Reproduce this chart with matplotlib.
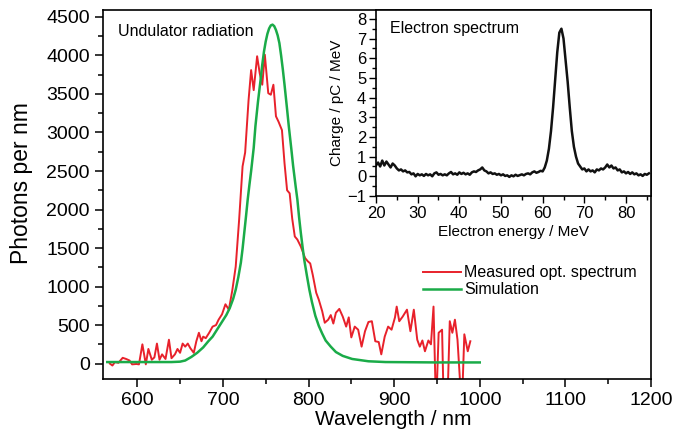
import matplotlib
matplotlib.use("Agg")
import matplotlib.pyplot as plt
from matplotlib.ticker import MultipleLocator

plt.rcParams['font.family'] = ['Liberation Sans', 'DejaVu Sans']

# measured optical spectrum (wavelength nm, photons per nm)
meas_wl = [568, 571, 574, 578, 583, 587, 591, 594, 599, 602, 606, 610, 613, 617, 620,
           623, 626, 629, 633, 637, 640, 644, 647, 650, 653, 656, 659, 662, 666, 669,
           672, 675, 677, 680, 684, 688, 692, 695, 699, 703, 707, 711, 715, 719, 723,
           726, 730, 733, 736, 740, 743, 746, 749, 753, 756, 759, 762, 765, 769, 772,
           775, 778, 781, 784, 787, 791, 796, 799, 802, 805, 809, 812, 816, 819, 823,
           826, 829, 832, 836, 840, 844, 847, 850, 854, 858, 862, 866, 870, 874, 878,
           882, 885, 889, 893, 897, 901, 903, 906, 910, 915, 919, 923, 927, 930, 933,
           936, 940, 943, 946, 949, 952, 956, 958, 962, 965, 968, 971, 974, 979, 982,
           986, 989]
meas_val = [0, -25, 20, 10, 75, 60, 40, -10, -5, -10, 250, -10, 190, 50, 80,
            260, 50, 120, 60, 310, 70, 120, 190, 140, 260, 220, 260, 200, 140, 290,
            400, 290, 350, 330, 400, 480, 500, 570, 640, 770, 700, 950, 1260, 1870, 2560,
            2740, 3420, 3810, 3550, 3990, 3770, 3620, 4010, 3510, 3490, 3620, 3210, 3140, 3030, 2600,
            2250, 2210, 1880, 1650, 1610, 1520, 1370, 1330, 1300, 1150, 920, 830, 680, 530, 570,
            630, 520, 660, 710, 610, 480, 600, 340, 480, 440, 220, 420, 540, 550, 290,
            280, 120, 350, 480, 440, 600, 740, 550, 610, 700, 420, 700, 310, 220, 300,
            160, 300, 250, 740, -600, 400, 440, -600, -600, 550, 400, 570, 310, -600, 380,
            160, 290]

# simulation
sim_wl = [565, 600, 640, 650, 656, 663, 670, 677, 683, 688, 692, 696, 700, 704, 708,
          712, 715, 718, 721, 723, 725, 727, 729, 731, 733, 736, 738, 741, 744, 746,
          748, 750, 752, 754, 756, 758, 760, 762, 764, 766, 768, 770, 772, 775, 777,
          780, 782, 785, 787, 789, 791, 793, 795, 798, 801, 804, 808, 812, 816, 820,
          826, 832, 840, 851, 870, 890, 950, 1000]
sim_val = [20, 20, 20, 25, 40, 85, 140, 210, 290, 350, 420, 490, 560, 630, 720,
           840, 960, 1120, 1310, 1490, 1700, 1910, 2130, 2320, 2500, 2800, 3080, 3400, 3680, 3880,
           4050, 4180, 4280, 4350, 4390, 4400, 4380, 4330, 4260, 4160, 4000, 3820, 3620, 3300, 3080,
           2780, 2570, 2300, 2130, 1900, 1700, 1520, 1350, 1150, 960, 800, 620, 490, 390, 300,
           220, 150, 100, 60, 30, 20, 15, 15]

# electron spectrum (MeV, pC/MeV)
e_energy = [20.0 + 0.5 * i for i in range(132)]
e_charge = [0.55, 0.70, 0.50, 0.80, 0.55, 0.75, 0.60, 0.45, 0.65, 0.55,
            0.40, 0.30, 0.35, 0.25, 0.30, 0.20, 0.22, 0.10, 0.15, 0.00,
            0.12, 0.05, 0.10, 0.02, 0.12, 0.05, 0.10, 0.00, 0.15, 0.20,
            0.08, 0.12, 0.05, 0.10, 0.05, 0.15, 0.22, 0.10, 0.15, 0.08,
            0.20, 0.12, 0.18, 0.10, 0.15, 0.08, 0.20, 0.25, 0.22, 0.30,
            0.35, 0.45, 0.30, 0.25, 0.15, 0.20, 0.12, 0.15, 0.08, 0.12,
            0.05, 0.10, 0.02, 0.05, -0.03, 0.05, 0.00, 0.08, 0.02, 0.06,
            0.10, 0.05, 0.12, 0.15, 0.10, 0.20, 0.25, 0.18, 0.22, 0.28,
            0.25, 0.45, 0.80, 1.40, 2.30, 3.50, 4.90, 6.30, 7.30, 7.50,
            7.00, 5.90, 4.80, 3.50, 2.30, 1.50, 1.00, 0.65, 0.50, 0.35,
            0.40, 0.25, 0.35, 0.25, 0.30, 0.20, 0.35, 0.30, 0.40, 0.35,
            0.45, 0.60, 0.45, 0.55, 0.40, 0.45, 0.30, 0.35, 0.20, 0.25,
            0.15, 0.22, 0.12, 0.20, 0.10, 0.15, 0.05, 0.10, 0.02, 0.12,
            0.08, 0.15]

red = '#e8212b'
green = '#1aab48'

fig = plt.figure(figsize=(6.86, 4.40), dpi=100)
ax = fig.add_axes([103 / 686, 1 - 379 / 440, 548 / 686, 369 / 440])

ax.plot(meas_wl, meas_val, color=red, lw=1.4, label='Measured opt. spectrum')
ax.plot(sim_wl, sim_val, color=green, lw=1.8, label='Simulation')
ax.set_xlim(560, 1200)
ax.set_ylim(-200, 4590)
ax.xaxis.set_major_locator(MultipleLocator(100))
ax.xaxis.set_minor_locator(MultipleLocator(50))
ax.yaxis.set_major_locator(MultipleLocator(500))
ax.yaxis.set_minor_locator(MultipleLocator(250))
ax.tick_params(which='major', length=6, width=1.1, labelsize=14, direction='out')
ax.tick_params(which='minor', length=3.5, width=1.1, direction='out')
for s in ax.spines.values():
    s.set_linewidth(1.2)
ax.set_xlabel('Wavelength / nm', fontsize=15)
ax.set_ylabel('Photons per nm', fontsize=16.5)
ax.xaxis.set_label_coords(0.53, -0.085)
ax.yaxis.set_label_coords(-0.128, 0.53)
ax.text(0.027, 0.942, 'Undulator radiation', transform=ax.transAxes,
        fontsize=11.5, va='center', ha='left')
ax.legend(loc='upper left', bbox_to_anchor=(0.572, 0.326), frameon=False,
          fontsize=11.5, handlelength=2.4, handletextpad=0.2, labelspacing=0.15,
          borderaxespad=0)

# inset
ins = fig.add_axes([376 / 686, 1 - 196 / 440, 275 / 686, 186 / 440])
ins.plot(e_energy, e_charge, color='#111111', lw=1.8)
ins.set_xlim(20, 86)
ins.set_ylim(-1, 8.45)
ins.xaxis.set_major_locator(MultipleLocator(10))
ins.xaxis.set_minor_locator(MultipleLocator(5))
ins.yaxis.set_major_locator(MultipleLocator(1))
ins.yaxis.set_minor_locator(MultipleLocator(0.5))
ins.tick_params(which='major', length=5, width=1.0, labelsize=12, direction='out', pad=2)
ins.tick_params(which='minor', length=3, width=1.0, direction='out')
for s in ins.spines.values():
    s.set_linewidth(1.2)
ins.set_xlabel('Electron energy / MeV', fontsize=11, labelpad=3)
ins.set_ylabel('Charge / pC / MeV', fontsize=11, labelpad=2)
ins.text(0.05, 0.9, 'Electron spectrum', transform=ins.transAxes,
         fontsize=11.5, va='center', ha='left')

fig.savefig('out.png', dpi=100)
